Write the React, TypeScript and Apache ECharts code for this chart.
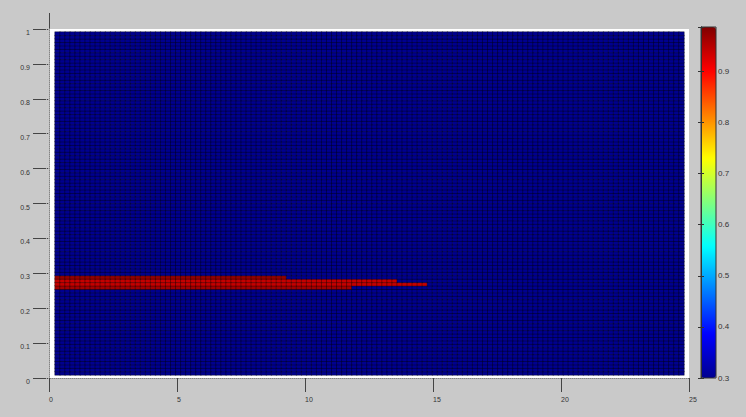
import React, { useEffect, useRef } from "react";
import * as echarts from "echarts";

// ---- data ----
const columnCount = 125; // surface columns along x (0 .. 25)
const rowCount = 100; // surface rows along y (0 .. 1)
const baseValue = 0.3;
const bandRows = [25, 26, 27, 28];
const bandLastColumn = [58, 73, 67, 45];
const bandValues = [0.962, 0.94, 0.94, 0.972];
const colorMin = 0.3;
const colorMax = 0.987;
const jetColors = [
  "#00008f",
  "#0000ff",
  "#007fff",
  "#00ffff",
  "#7fff7f",
  "#ffff00",
  "#ff7f00",
  "#ff0000",
  "#7f0000",
];

const columnCategories: string[] = [];
for (let c = 0; c < columnCount; c++) columnCategories.push(String(c));
const rowCategories: string[] = [];
for (let r = 0; r < rowCount; r++) rowCategories.push(String(r));

const cells: number[][] = [];
for (let r = 0; r < rowCount; r++) {
  const b = bandRows.indexOf(r);
  for (let c = 0; c < columnCount; c++) {
    const v = b >= 0 && c <= bandLastColumn[b] ? bandValues[b] : baseValue;
    cells.push([c, r, v]);
  }
}

const FONT = "'Liberation Sans', Arial, sans-serif";
const AXIS = "#444";

export default function App() {
  const ref = useRef<HTMLDivElement>(null);
  useEffect(() => {
    if (!ref.current) return;
    const chart = echarts.init(ref.current, undefined, { renderer: "svg" });
    chart.setOption({
      animation: false,
      backgroundColor: "#c9c9c9",
      grid: [
        {
          left: 49,
          top: 29,
          width: 640,
          height: 349,
          show: true,
          backgroundColor: "#ffffff",
          borderWidth: 0,
        },
        { left: 55, top: 32, width: 629, height: 343 },
        {
          left: 701,
          top: 27,
          width: 15,
          height: 351,
          show: true,
          backgroundColor: "transparent",
          borderColor: "#333",
          borderWidth: 1,
          z: 10,
        },
      ],
      xAxis: [
        {
          gridIndex: 0,
          type: "value",
          min: 0,
          max: 25,
          interval: 5,
          position: "bottom",
          axisLine: { show: true, lineStyle: { color: AXIS, width: 1 } },
          axisTick: { show: true, inside: false, length: 14, lineStyle: { color: AXIS } },
          axisLabel: { show: true, margin: 18, align: "left", fontSize: 7, color: "#333", fontFamily: FONT },
          splitLine: { show: false },
        },
        {
          gridIndex: 0,
          type: "value",
          min: 0,
          max: 25,
          interval: 5,
          position: "top",
          axisLine: { show: true, lineStyle: { color: "#aaa", type: "dotted", width: 1 } },
          axisTick: { show: false },
          axisLabel: { show: false },
          splitLine: { show: false },
        },
        {
          gridIndex: 1,
          type: "category",
          data: columnCategories,
          show: false,
        },
        { gridIndex: 2, type: "value", min: 0, max: 1, show: false },
      ],
      yAxis: [
        {
          gridIndex: 0,
          type: "value",
          min: 0,
          max: 1,
          interval: 0.1,
          position: "left",
          axisLine: { show: true, lineStyle: { color: AXIS, width: 1 } },
          axisTick: { show: true, inside: false, length: 16, lineStyle: { color: AXIS } },
          axisLabel: { show: true, margin: 19, verticalAlign: "top", fontSize: 7, color: "#333", fontFamily: FONT },
          splitLine: { show: false },
        },
        {
          gridIndex: 0,
          type: "value",
          min: 0,
          max: 1,
          interval: 0.1,
          position: "right",
          axisLine: { show: true, lineStyle: { color: "#aaa", type: "dotted", width: 1 } },
          axisTick: { show: true, inside: true, length: 4, lineStyle: { color: "#aaa", type: "dotted" } },
          axisLabel: { show: false },
          splitLine: { show: false },
        },
        {
          gridIndex: 1,
          type: "category",
          data: rowCategories,
          show: false,
        },
        {
          gridIndex: 2,
          type: "value",
          min: colorMin,
          max: colorMax,
          interval: 0.1,
          position: "right",
          z: 10,
          axisLine: { show: true, lineStyle: { color: "#333", width: 1 } },
          axisTick: { show: true, inside: true, length: 3, lineStyle: { color: "#333" } },
          axisLabel: {
            show: true,
            margin: 2,
            fontSize: 8,
            color: "#333",
            fontFamily: FONT,
            formatter: (v: number) =>
              Math.abs(v * 10 - Math.round(v * 10)) < 1e-6 ? v.toFixed(1) : "",
          },
          splitLine: { show: false },
        },
        {
          gridIndex: 2,
          type: "value",
          min: colorMin,
          max: colorMax,
          interval: 0.1,
          position: "left",
          z: 10,
          axisLine: { show: true, lineStyle: { color: "#333", width: 1 } },
          axisTick: { show: true, inside: true, length: 3, lineStyle: { color: "#333" } },
          axisLabel: { show: false },
          splitLine: { show: false },
        },
      ],
      visualMap: {
        type: "continuous",
        min: colorMin,
        max: colorMax,
        seriesIndex: 0,
        show: true,
        calculable: false,
        hoverLink: false,
        left: 701,
        top: 27,
        itemWidth: 15,
        itemHeight: 351,
        padding: 0,
        text: ["", ""],
        inRange: { color: jetColors },
      },
      graphic: [
        {
          type: "line",
          shape: { x1: 49.5, y1: 13, x2: 49.5, y2: 29 },
          style: { stroke: AXIS, lineWidth: 1 },
          silent: true,
        },
      ],
      series: [
        {
          type: "heatmap",
          xAxisIndex: 2,
          yAxisIndex: 2,
          data: cells,
          progressive: 0,
          itemStyle: { borderColor: "rgba(0,0,0,0.5)", borderWidth: 0.7 },
          emphasis: { disabled: true },
        },
      ],
    });
    return () => chart.dispose();
  }, []);
  return (
    <div
      ref={ref}
      style={{ position: "fixed", left: 0, top: 0, width: 746, height: 417 }}
    />
  );
}
